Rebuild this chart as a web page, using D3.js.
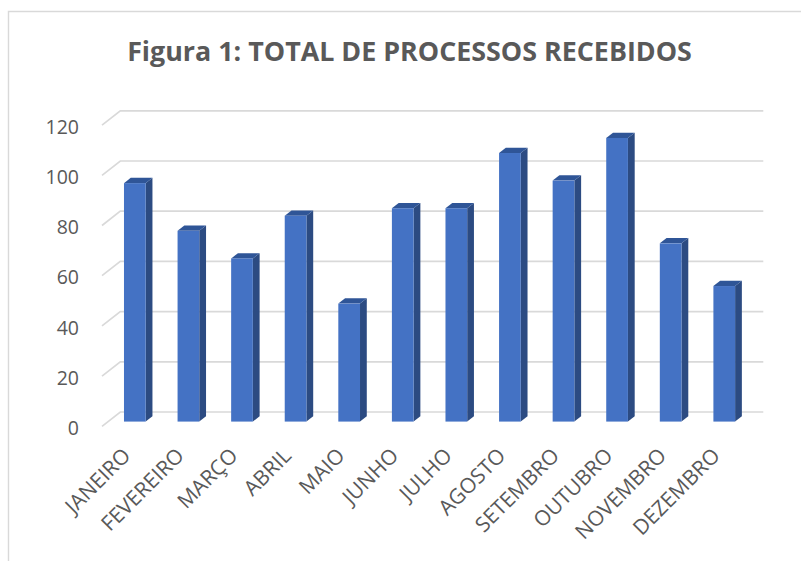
<!DOCTYPE html>
<html>
<head>
<meta charset="utf-8">
<script src="https://cdn.jsdelivr.net/npm/d3@7"></script>
<style>
  html, body { margin: 0; padding: 0; background: #fff; }
  svg { display: block; }
</style>
</head>
<body>
<svg id="chart" width="801" height="561"></svg>
<script>
const title = "Figura 1: TOTAL DE PROCESSOS RECEBIDOS";
const categories = ["JANEIRO","FEVEREIRO","MARÇO","ABRIL","MAIO","JUNHO","JULHO","AGOSTO","SETEMBRO","OUTUBRO","NOVEMBRO","DEZEMBRO"];
const values = [95, 76, 65, 82, 47, 85, 85, 107, 96, 113, 71, 54];
const yTicks = [0, 20, 40, 60, 80, 100, 120];

const svg = d3.select("#chart");
const W = 801, H = 561;
const textColor = "#595959";
const gridColor = "#d9d9d9";
const font = "'Open Sans', 'Noto Sans', sans-serif";

// 3D oblique depth vector (front plane -> back wall)
const D = { x: 18.3, y: -14.3 };
const f0 = 0.33, f1 = 0.70;   // bar front / back depth fractions

// Front plane scales
const x = d3.scaleBand().domain(categories).range([102, 745]).paddingInner(0).paddingOuter(0);
const yBack = d3.scaleLinear().domain([0, 120]).range([412, 110.8]);
const yFront = v => yBack(v) - D.y;

// chart border
svg.append("path")
  .attr("d", `M${W + 5},11.5 H8.5 V${H + 5}`)
  .attr("fill", "none").attr("stroke", gridColor).attr("stroke-width", 1.4);

// title
const t = svg.append("text")
  .attr("x", 409.5).attr("y", 61)
  .attr("text-anchor", "middle")
  .attr("font-family", font).attr("font-weight", 700)
  .attr("font-size", 24).attr("fill", textColor)
  .text(title);
const tl = t.node().getComputedTextLength();
t.attr("font-size", 24 * 565 / tl);

// gridlines: back wall + left side diagonal
const grid = svg.append("g").attr("fill", "none").attr("stroke", gridColor).attr("stroke-width", 1.7);
yTicks.forEach(v => {
  const x0 = x.range()[0], x1 = x.range()[1];
  grid.append("path")
    .attr("d", `M${x0},${yFront(v)} L${x0 + D.x},${yBack(v)} H${x1 + D.x}`);
});

// y axis labels
const yAxis = d3.axisLeft(d3.scaleLinear().domain([0, 120]).range([yFront(0) + 2, yFront(120) + 2]))
  .tickValues(yTicks).tickSize(0).tickPadding(0);
const gy = svg.append("g").attr("transform", "translate(79,0)").call(yAxis);
gy.select(".domain").remove();
gy.selectAll("text").attr("font-family", font).attr("font-size", 19.5).attr("fill", textColor);

// bars (front, side, top faces)
const bw = x.bandwidth() * 0.405;
const bars = svg.append("g");
categories.forEach((c, i) => {
  const v = values[i];
  const left = x(c) + (x.bandwidth() - bw) / 2 + f0 * D.x;
  const right = left + bw;
  const bot = yFront(0) + f0 * D.y;
  const top = yFront(v) + f0 * D.y;
  const dx = (f1 - f0) * D.x, dy = (f1 - f0) * D.y;
  const g = bars.append("g");
  // side
  g.append("path")
    .attr("d", `M${right},${bot} L${right + dx},${bot + dy} L${right + dx},${top + dy} L${right},${top} Z`)
    .attr("fill", "#2c4b82");
  // top
  g.append("path")
    .attr("d", `M${left},${top} L${left + dx},${top + dy} L${right + dx},${top + dy} L${right},${top} Z`)
    .attr("fill", "#2f5597");
  // front
  g.append("rect")
    .attr("x", left).attr("y", top).attr("width", bw).attr("height", bot - top)
    .attr("fill", "#4472c4");
});

// x axis labels (rotated)
const xl = svg.append("g");
categories.forEach(c => {
  const cx = x(c) + x.bandwidth() / 2 + 3;
  xl.append("text")
    .attr("transform", `translate(${cx},457) rotate(-45)`)
    .attr("text-anchor", "end")
    .attr("font-family", font).attr("font-size", 21).attr("fill", textColor)
    .text(c);
});
</script>
</body>
</html>
